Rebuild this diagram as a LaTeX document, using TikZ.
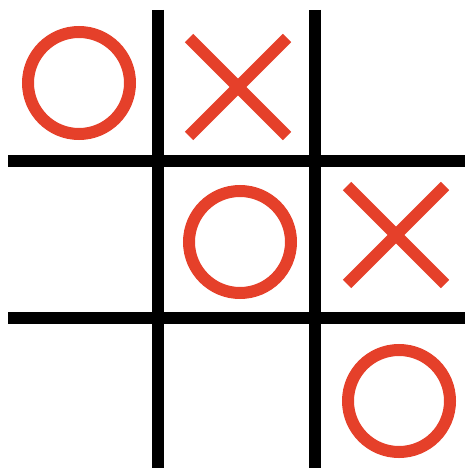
\documentclass[tikz,border=0pt]{standalone}
\usepackage{tikz}
\definecolor{markRed}{HTML}{E5402A}

\begin{document}
\begin{tikzpicture}[
  x=1pt, y=-1pt,
  grid line/.style={
    draw=black,
    line width=12pt
  },
  ring mark/.style={
    draw=markRed,
    line width=12pt
  },
  cross mark/.style={
    draw=markRed,
    line width=12pt,
    line cap=butt
  }
]

\useasboundingbox (0,0) rectangle (465,468);

% Board lines
\draw[grid line] (158,10) -- (158,468);
\draw[grid line] (315,10) -- (315,468);
\draw[grid line] (8,161) -- (465,161);
\draw[grid line] (8,318) -- (465,318);

% Rings
\draw[ring mark] (79,83) circle[radius=51];
\draw[ring mark] (240,242) circle[radius=51];
\draw[ring mark] (399,401) circle[radius=51];

% Crosses
\foreach \cx/\cy in {238/87, 396/235} {
  \draw[cross mark] (\cx-49,\cy-49) -- (\cx+49,\cy+49);
  \draw[cross mark] (\cx+49,\cy-49) -- (\cx-49,\cy+49);
}

\end{tikzpicture}
\end{document}
